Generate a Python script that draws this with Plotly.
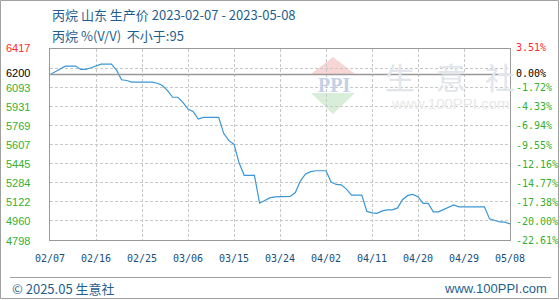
import pandas as pd
import plotly.graph_objects as go

# ---------------- data ----------------
start_date = "2023-02-07"
end_date = "2023-05-08"
dates = pd.date_range(start_date, end_date, freq="D")
prices = [
    6200, 6224, 6250, 6272, 6272, 6272, 6244, 6244, 6258, 6272,   # 02/07-02/16
    6289, 6289, 6289, 6240, 6156, 6150, 6136, 6136, 6136, 6136,   # 02/17-02/26
    6136, 6127, 6107, 6065, 6008, 6008, 5965, 5908, 5888, 5823,   # 02/27-03/08
    5837, 5837, 5837, 5837, 5700, 5640, 5610, 5450, 5346, 5346,   # 03/09-03/18
    5346, 5110, 5135, 5155, 5164, 5164, 5164, 5167, 5200, 5300,   # 03/19-03/28
    5358, 5378, 5385, 5385, 5385, 5290, 5269, 5265, 5229, 5178,   # 03/29-04/07
    5178, 5178, 5040, 5028, 5024, 5045, 5053, 5053, 5070, 5142,   # 04/08-04/17
    5176, 5185, 5165, 5108, 5108, 5037, 5037, 5057, 5079, 5096,   # 04/18-04/27
    5079, 5079, 5079, 5079, 5079, 5079, 4977, 4966, 4951, 4950,   # 04/28-05/07
    4934,                                                         # 05/08
]
base_price = 6200
y_min, y_max = 4798, 6417
grid_vals = [4798, 4960, 5122, 5284, 5446, 5607.5, 5769, 5931, 6093, 6255, 6417]
left_tick_vals = [6093, 5931, 5769, 5607, 5445, 5284, 5122, 4960, 4798]
right_tick_labels = ["-1.72%", "-4.33%", "-6.94%", "-9.55%", "-12.16%",
                     "-14.77%", "-17.38%", "-20.00%", "-22.61%"]
top_right_label = "3.51%"
base_right_label = "0.00%"
x_tick_dates = ["2023-02-07", "2023-02-16", "2023-02-25", "2023-03-06",
                "2023-03-15", "2023-03-24", "2023-04-02", "2023-04-11",
                "2023-04-20", "2023-04-29", "2023-05-08"]
x_tick_labels = ["02/07", "02/16", "02/25", "03/06", "03/15", "03/24",
                 "04/02", "04/11", "04/20", "04/29", "05/08"]
title_line1 = "丙烷 山东 生产价 2023-02-07 - 2023-05-08"
title_line2 = "丙烷 %(V/V)  不小于:95"
footer_left = "© 2025.05 生意社"
footer_right = "www.100PPI.com"

# ---------------- geometry helpers ----------------
W, H = 560, 300
L, R, T, B = 50, 50, 49, 60
PW, PH = W - L - R, H - T - B


def xp(px):
    return (px - L) / PW


def yp(py):
    return (H - B - py) / PH


GREEN = "#33b033"
RED = "#ff2a2a"
BLUE_TXT = "#1f5f8f"
CJK = "Noto Sans CJK SC"
MONO = "DejaVu Sans Mono"

fig = go.Figure()
fig.add_trace(go.Scatter(x=dates, y=prices, mode="lines",
                         line=dict(color="#3a97d6", width=1.2),
                         hoverinfo="skip", showlegend=False))

shapes = []
annotations = []

# baseline
shapes.append(dict(type="line", xref="paper", yref="y", x0=0, x1=1,
                   y0=base_price, y1=base_price,
                   line=dict(color="#999999", width=1.5), layer="above"))

# footer separator and outer border
shapes.append(dict(type="line", xref="paper", yref="paper",
                   x0=xp(10), x1=xp(551), y0=yp(277.5), y1=yp(277.5),
                   line=dict(color="#a0a0a0", width=1)))
shapes.append(dict(type="rect", xref="paper", yref="paper",
                   x0=xp(0.5), x1=xp(558.5), y0=yp(0.5), y1=yp(298.5),
                   line=dict(color="#a0a0a0", width=1)))

# watermark logo
shapes.append(dict(type="path", xref="paper", yref="paper", layer="below",
                   path=f"M {xp(333)} {yp(57)} L {xp(355)} {yp(74)} L {xp(311)} {yp(74)} Z",
                   fillcolor="#f8d6d6", line=dict(width=0)))
shapes.append(dict(type="path", xref="paper", yref="paper", layer="below",
                   path=f"M {xp(311)} {yp(93)} L {xp(355)} {yp(93)} L {xp(333)} {yp(114)} Z",
                   fillcolor="#d8eed8", line=dict(width=0)))
annotations.append(dict(xref="paper", yref="paper", x=xp(334), y=yp(84.5),
                        text="<b>PPI</b>", showarrow=False,
                        font=dict(family="Liberation Serif", size=20, color="#c3d0e6"),
                        xanchor="center", yanchor="middle"))
for ch, cx in zip("生意社", [400, 451, 500]):
    annotations.append(dict(xref="paper", yref="paper", x=xp(cx), y=yp(76),
                            text=ch, showarrow=False, borderpad=0,
                            font=dict(family=CJK, size=30, color="#e1e5ec"),
                            xanchor="center", yanchor="middle"))
annotations.append(dict(xref="paper", yref="paper", x=xp(450), y=yp(103),
                        text="www.100PPI.com", showarrow=False,
                        font=dict(family="Liberation Sans", size=15, color="#e8e8e8"),
                        xanchor="center", yanchor="middle"))

# titles
annotations.append(dict(xref="paper", yref="paper", x=xp(50), y=yp(15),
                        text=title_line1, showarrow=False,
                        font=dict(family=CJK, size=13, color=BLUE_TXT),
                        xanchor="left", yanchor="middle"))
annotations.append(dict(xref="paper", yref="paper", x=xp(50), y=yp(35),
                        text=title_line2, showarrow=False,
                        font=dict(family=CJK, size=13, color=BLUE_TXT),
                        xanchor="left", yanchor="middle"))

# left tick labels
annotations.append(dict(xref="paper", yref="y", x=xp(5), y=y_max,
                        text=str(y_max), showarrow=False, borderpad=0,
                        font=dict(family="Liberation Sans", size=11, color=RED),
                        xanchor="left", yanchor="middle", yshift=1))
annotations.append(dict(xref="paper", yref="y", x=xp(5), y=base_price,
                        text=str(base_price), showarrow=False, borderpad=0,
                        font=dict(family="Liberation Sans", size=11, color="#000000"),
                        xanchor="left", yanchor="middle", yshift=1.5))
for v in left_tick_vals:
    annotations.append(dict(xref="paper", yref="y", x=xp(5), y=v,
                            text=str(v), showarrow=False, borderpad=0,
                            font=dict(family="Liberation Sans", size=11, color=GREEN),
                            xanchor="left", yanchor="middle", yshift=-0.5))

# right tick labels
annotations.append(dict(xref="paper", yref="y", x=xp(515), y=y_max,
                        text=top_right_label, showarrow=False, borderpad=0,
                        font=dict(family=MONO, size=10, color=RED),
                        xanchor="left", yanchor="middle", yshift=1.5))
annotations.append(dict(xref="paper", yref="y", x=xp(515), y=base_price,
                        text=base_right_label, showarrow=False, borderpad=0,
                        font=dict(family=MONO, size=10, color="#000000"),
                        xanchor="left", yanchor="middle", yshift=1.5))
for v, lab in zip(left_tick_vals, right_tick_labels):
    annotations.append(dict(xref="paper", yref="y", x=xp(515), y=v,
                            text=lab, showarrow=False, borderpad=0,
                            font=dict(family=MONO, size=10, color=GREEN),
                            xanchor="left", yanchor="middle", yshift=-0.5))

# x tick labels
for d, lab in zip(x_tick_dates, x_tick_labels):
    annotations.append(dict(xref="x", yref="paper", x=d, y=yp(258),
                            text=lab, showarrow=False,
                            font=dict(family=MONO, size=10, color="#1a4f7a"),
                            xanchor="center", yanchor="middle"))

# footer
annotations.append(dict(xref="paper", yref="paper", x=xp(10), y=yp(288),
                        text=footer_left, showarrow=False,
                        font=dict(family=CJK, size=13, color=BLUE_TXT),
                        xanchor="left", yanchor="middle"))
annotations.append(dict(xref="paper", yref="paper", x=xp(549), y=yp(288),
                        text=footer_right, showarrow=False,
                        font=dict(family="Liberation Sans", size=13, color=BLUE_TXT),
                        xanchor="right", yanchor="middle"))

fig.update_layout(
    width=W, height=H,
    margin=dict(l=L, r=R, t=T, b=B, pad=0),
    paper_bgcolor="white", plot_bgcolor="white",
    showlegend=False,
    shapes=shapes, annotations=annotations,
    xaxis=dict(type="date", range=[start_date, end_date],
               tickvals=x_tick_dates, showticklabels=False, ticks="",
               showgrid=True, gridcolor="#c8c8c8", griddash="3px,2px", gridwidth=1,
               showline=True, linecolor="#999999", linewidth=1, mirror=True,
               zeroline=False, fixedrange=True),
    yaxis=dict(range=[y_min, y_max], tickvals=grid_vals, showticklabels=False,
               ticks="", showgrid=True, gridcolor="#c8c8c8", griddash="3px,2px",
               gridwidth=1, showline=True, linecolor="#999999", linewidth=1,
               mirror=True, zeroline=False, fixedrange=True),
)

fig.write_html("out.html", config={"displayModeBar": False})
